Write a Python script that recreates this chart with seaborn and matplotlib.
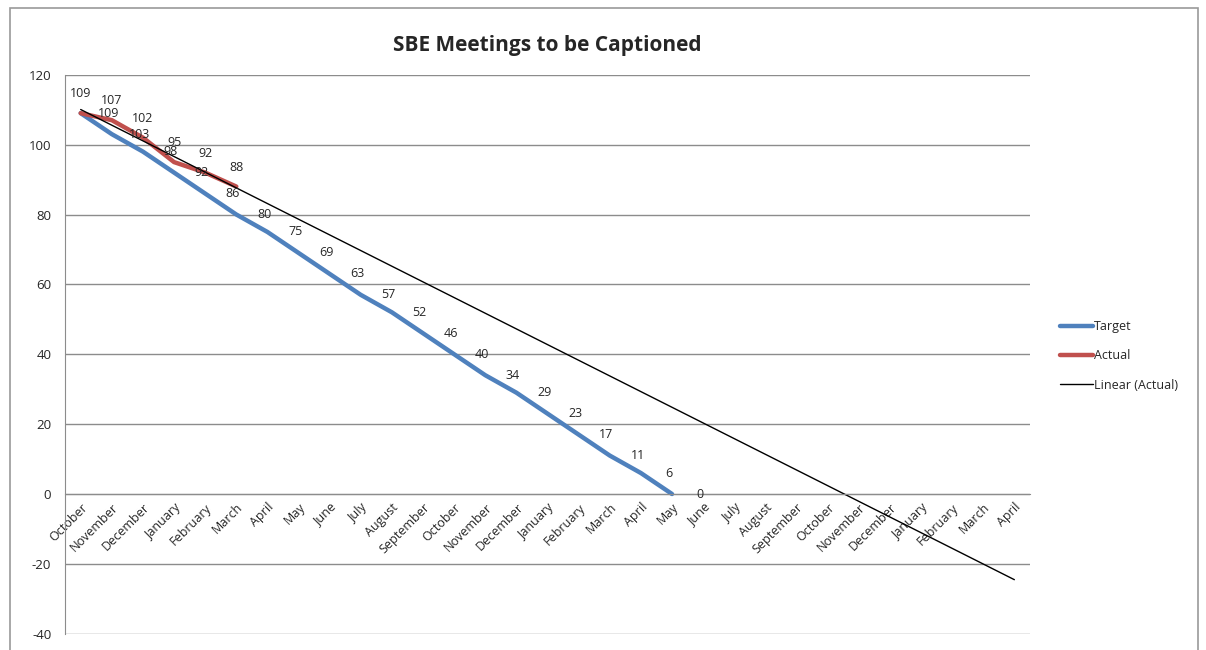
import numpy as np
import pandas as pd
import seaborn as sns
import matplotlib.pyplot as plt
from matplotlib.patches import Rectangle

# Month categories (Oct through the April 2.5 years later)
months = ["October", "November", "December", "January", "February", "March",
          "April", "May", "June", "July", "August", "September",
          "October", "November", "December", "January", "February", "March",
          "April", "May", "June", "July", "August", "September",
          "October", "November", "December", "January", "February", "March",
          "April"]
target = [109, 103, 98, 92, 86, 80, 75, 69, 63, 57, 52, 46, 40, 34, 29, 23,
          17, 11, 6, 0]
actual = [109, 107, 102, 95, 92, 88]

blue = "#4F81BD"
red = "#C0504D"

sns.set_style("white")
plt.rcParams["font.family"] = ["Open Sans", "DejaVu Sans"]
plt.rcParams["axes.unicode_minus"] = False

fig = plt.figure(figsize=(12.06, 6.5), dpi=100)
ax = fig.add_axes([0.054, 0.025, 0.800, 0.860])

df_t = pd.DataFrame({"x": np.arange(len(target)), "y": target})
df_a = pd.DataFrame({"x": np.arange(len(actual)), "y": actual})

sns.lineplot(data=df_t, x="x", y="y", ax=ax, color=blue, linewidth=3.2,
             label="Target", solid_capstyle="round")
sns.lineplot(data=df_a, x="x", y="y", ax=ax, color=red, linewidth=3.2,
             label="Actual", solid_capstyle="round")

# Excel-style linear trendline of Actual, extended to the end of the axis
slope, intercept = np.polyfit(df_a["x"], df_a["y"], 1)
xs = np.arange(len(months))
ax.plot(xs, slope * xs + intercept, color="black", linewidth=1,
        label="Linear (Actual)")

# data labels
for x, y in zip(df_t["x"], df_t["y"]):
    ax.annotate(str(y), (x, y), xytext=(20, 0), textcoords="offset points",
                ha="center", va="center", fontsize=9)
for x, y in zip(df_a["x"], df_a["y"]):
    ax.annotate(str(y), (x, y), xytext=(0, 14), textcoords="offset points",
                ha="center", va="center", fontsize=9)

# axis line crosses at zero (must come before tick styling)
for s in ["top", "right"]:
    ax.spines[s].set_visible(False)
ax.spines["bottom"].set_position(("data", 0))
ax.spines["bottom"].set_color("#8c8c8c")
ax.spines["left"].set_color("#8c8c8c")

ax.set_xlim(-0.5, len(months) - 0.5)
ax.set_ylim(-40, 120)
ax.set_yticks(range(-40, 121, 20))
ax.yaxis.grid(True, color="#8c8c8c", linewidth=1)
ax.set_axisbelow(True)

ax.set_xticks(xs)
ax.set_xticklabels(months, rotation=45, ha="right", rotation_mode="anchor",
                   fontsize=9)
ax.set_xticks(np.arange(-0.5, len(months), 1), minor=True)
ax.tick_params(axis="x", which="major", length=0, pad=5)
ax.tick_params(axis="x", which="minor", length=4, color="#8c8c8c",
               direction="out")
ax.tick_params(axis="y", length=4, color="#8c8c8c", labelsize=9.5, pad=6,
               direction="out")
ax.set_xlabel("")
ax.set_ylabel("")

ax.set_title("SBE Meetings to be Captioned", fontsize=15, fontweight="bold",
             pad=17)

leg = ax.legend(loc="center left", bbox_to_anchor=(1.02, 0.497), frameon=False,
                fontsize=9, handlelength=2.6, handletextpad=0.1,
                labelspacing=1.3)

# outer chart border
fig.patches.append(Rectangle((0.008, -0.01), 0.985, 0.998, transform=fig.transFigure,
                             fill=False, edgecolor="#9a9a9a", linewidth=1.2))

fig.savefig("out.png", dpi=100)
